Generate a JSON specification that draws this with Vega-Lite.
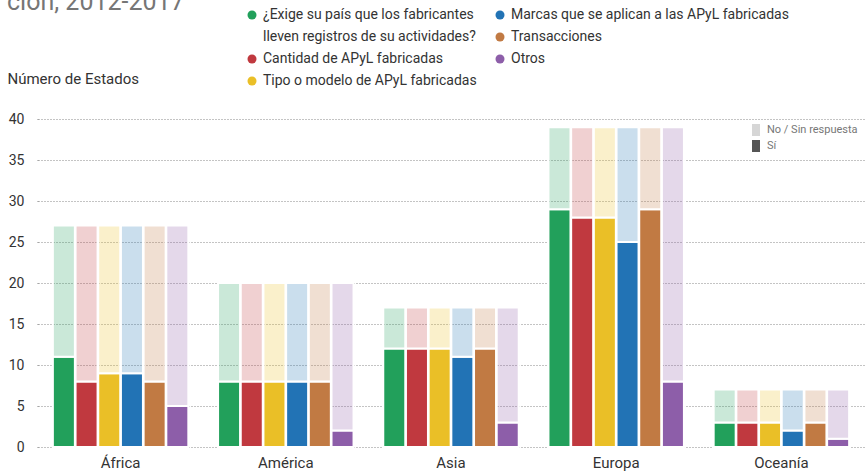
{
  "$schema": "https://vega.github.io/schema/vega-lite/v6.json",
  "autosize": {"type": "none"},
  "width": 826,
  "height": 328,
  "padding": {"left": 38, "top": 119, "right": 1, "bottom": 28},
  "title": {"text": "ción, 2012-2017", "anchor": "start", "frame": "group", "fontSize": 25, "fontWeight": "normal", "color": "#767676", "baseline": "alphabetic", "offset": 0, "dx": -31, "dy": 27},
  "config": {
    "view": {"stroke": null},
    "font": "Roboto, sans-serif"
  },
  "data": {"values": [
    {"region": "África", "serie": "¿Exige su país que los fabricantes", "estado": "Sí", "n": 11},
    {"region": "África", "serie": "¿Exige su país que los fabricantes", "estado": "No / Sin respuesta", "n": 16},
    {"region": "África", "serie": "Cantidad de APyL fabricadas", "estado": "Sí", "n": 8},
    {"region": "África", "serie": "Cantidad de APyL fabricadas", "estado": "No / Sin respuesta", "n": 19},
    {"region": "África", "serie": "Tipo o modelo de APyL fabricadas", "estado": "Sí", "n": 9},
    {"region": "África", "serie": "Tipo o modelo de APyL fabricadas", "estado": "No / Sin respuesta", "n": 18},
    {"region": "África", "serie": "Marcas que se aplican a las APyL fabricadas", "estado": "Sí", "n": 9},
    {"region": "África", "serie": "Marcas que se aplican a las APyL fabricadas", "estado": "No / Sin respuesta", "n": 18},
    {"region": "África", "serie": "Transacciones", "estado": "Sí", "n": 8},
    {"region": "África", "serie": "Transacciones", "estado": "No / Sin respuesta", "n": 19},
    {"region": "África", "serie": "Otros", "estado": "Sí", "n": 5},
    {"region": "África", "serie": "Otros", "estado": "No / Sin respuesta", "n": 22},
    {"region": "América", "serie": "¿Exige su país que los fabricantes", "estado": "Sí", "n": 8},
    {"region": "América", "serie": "¿Exige su país que los fabricantes", "estado": "No / Sin respuesta", "n": 12},
    {"region": "América", "serie": "Cantidad de APyL fabricadas", "estado": "Sí", "n": 8},
    {"region": "América", "serie": "Cantidad de APyL fabricadas", "estado": "No / Sin respuesta", "n": 12},
    {"region": "América", "serie": "Tipo o modelo de APyL fabricadas", "estado": "Sí", "n": 8},
    {"region": "América", "serie": "Tipo o modelo de APyL fabricadas", "estado": "No / Sin respuesta", "n": 12},
    {"region": "América", "serie": "Marcas que se aplican a las APyL fabricadas", "estado": "Sí", "n": 8},
    {"region": "América", "serie": "Marcas que se aplican a las APyL fabricadas", "estado": "No / Sin respuesta", "n": 12},
    {"region": "América", "serie": "Transacciones", "estado": "Sí", "n": 8},
    {"region": "América", "serie": "Transacciones", "estado": "No / Sin respuesta", "n": 12},
    {"region": "América", "serie": "Otros", "estado": "Sí", "n": 2},
    {"region": "América", "serie": "Otros", "estado": "No / Sin respuesta", "n": 18},
    {"region": "Asia", "serie": "¿Exige su país que los fabricantes", "estado": "Sí", "n": 12},
    {"region": "Asia", "serie": "¿Exige su país que los fabricantes", "estado": "No / Sin respuesta", "n": 5},
    {"region": "Asia", "serie": "Cantidad de APyL fabricadas", "estado": "Sí", "n": 12},
    {"region": "Asia", "serie": "Cantidad de APyL fabricadas", "estado": "No / Sin respuesta", "n": 5},
    {"region": "Asia", "serie": "Tipo o modelo de APyL fabricadas", "estado": "Sí", "n": 12},
    {"region": "Asia", "serie": "Tipo o modelo de APyL fabricadas", "estado": "No / Sin respuesta", "n": 5},
    {"region": "Asia", "serie": "Marcas que se aplican a las APyL fabricadas", "estado": "Sí", "n": 11},
    {"region": "Asia", "serie": "Marcas que se aplican a las APyL fabricadas", "estado": "No / Sin respuesta", "n": 6},
    {"region": "Asia", "serie": "Transacciones", "estado": "Sí", "n": 12},
    {"region": "Asia", "serie": "Transacciones", "estado": "No / Sin respuesta", "n": 5},
    {"region": "Asia", "serie": "Otros", "estado": "Sí", "n": 3},
    {"region": "Asia", "serie": "Otros", "estado": "No / Sin respuesta", "n": 14},
    {"region": "Europa", "serie": "¿Exige su país que los fabricantes", "estado": "Sí", "n": 29},
    {"region": "Europa", "serie": "¿Exige su país que los fabricantes", "estado": "No / Sin respuesta", "n": 10},
    {"region": "Europa", "serie": "Cantidad de APyL fabricadas", "estado": "Sí", "n": 28},
    {"region": "Europa", "serie": "Cantidad de APyL fabricadas", "estado": "No / Sin respuesta", "n": 11},
    {"region": "Europa", "serie": "Tipo o modelo de APyL fabricadas", "estado": "Sí", "n": 28},
    {"region": "Europa", "serie": "Tipo o modelo de APyL fabricadas", "estado": "No / Sin respuesta", "n": 11},
    {"region": "Europa", "serie": "Marcas que se aplican a las APyL fabricadas", "estado": "Sí", "n": 25},
    {"region": "Europa", "serie": "Marcas que se aplican a las APyL fabricadas", "estado": "No / Sin respuesta", "n": 14},
    {"region": "Europa", "serie": "Transacciones", "estado": "Sí", "n": 29},
    {"region": "Europa", "serie": "Transacciones", "estado": "No / Sin respuesta", "n": 10},
    {"region": "Europa", "serie": "Otros", "estado": "Sí", "n": 8},
    {"region": "Europa", "serie": "Otros", "estado": "No / Sin respuesta", "n": 31},
    {"region": "Oceanía", "serie": "¿Exige su país que los fabricantes", "estado": "Sí", "n": 3},
    {"region": "Oceanía", "serie": "¿Exige su país que los fabricantes", "estado": "No / Sin respuesta", "n": 4},
    {"region": "Oceanía", "serie": "Cantidad de APyL fabricadas", "estado": "Sí", "n": 3},
    {"region": "Oceanía", "serie": "Cantidad de APyL fabricadas", "estado": "No / Sin respuesta", "n": 4},
    {"region": "Oceanía", "serie": "Tipo o modelo de APyL fabricadas", "estado": "Sí", "n": 3},
    {"region": "Oceanía", "serie": "Tipo o modelo de APyL fabricadas", "estado": "No / Sin respuesta", "n": 4},
    {"region": "Oceanía", "serie": "Marcas que se aplican a las APyL fabricadas", "estado": "Sí", "n": 2},
    {"region": "Oceanía", "serie": "Marcas que se aplican a las APyL fabricadas", "estado": "No / Sin respuesta", "n": 5},
    {"region": "Oceanía", "serie": "Transacciones", "estado": "Sí", "n": 3},
    {"region": "Oceanía", "serie": "Transacciones", "estado": "No / Sin respuesta", "n": 4},
    {"region": "Oceanía", "serie": "Otros", "estado": "Sí", "n": 1},
    {"region": "Oceanía", "serie": "Otros", "estado": "No / Sin respuesta", "n": 6}
  ]},
  "layer": [
    {
      "mark": {"type": "bar", "stroke": "white", "strokeWidth": 2},
      "encoding": {
        "x": {
          "field": "region", "type": "nominal",
          "sort": ["África", "América", "Asia", "Europa", "Oceanía"],
          "scale": {"paddingInner": 0.18, "paddingOuter": 0.09},
          "axis": {"title": null, "labelAngle": 0, "domain": false, "ticks": false, "labelFontSize": 15, "labelColor": "#333", "labelPadding": 8}
        },
        "xOffset": {
          "field": "serie", "type": "nominal",
          "sort": ["¿Exige su país que los fabricantes", "Cantidad de APyL fabricadas", "Tipo o modelo de APyL fabricadas", "Marcas que se aplican a las APyL fabricadas", "Transacciones", "Otros"],
          "scale": {"paddingInner": 0.03, "paddingOuter": 0}
        },
        "y": {
          "field": "n", "type": "quantitative", "stack": "zero",
          "scale": {"domain": [0, 40], "nice": false},
          "axis": {
            "title": "Número de Estados", "titleAngle": 0, "titleAlign": "left", "titleBaseline": "middle",
            "titleX": -31, "titleY": -41, "titleFontSize": 15, "titleFontWeight": "normal", "titleColor": "#333",
            "values": [0, 5, 10, 15, 20, 25, 30, 35, 40],
            "domain": false, "grid": true, "gridColor": "#888", "gridDash": [1, 2], "gridWidth": 1,
            "ticks": true, "tickSize": 3, "tickColor": "#888", "tickDash": [1, 2],
            "labelFontSize": 14, "labelColor": "#333", "labelPadding": 11
          }
        },
        "color": {
          "field": "serie", "type": "nominal",
          "scale": {
            "domain": ["¿Exige su país que los fabricantes", "Marcas que se aplican a las APyL fabricadas", "lleven registros de su actividades?", "Transacciones", "Cantidad de APyL fabricadas", "Otros", "Tipo o modelo de APyL fabricadas"],
            "range": ["#22a05b", "#2273b5", "rgba(255,255,255,0)", "#c17a43", "#c0393f", "#8d5ea9", "#eabf27"]
          },
          "legend": {
            "title": null, "orient": "none", "legendX": 207, "legendY": -111, "direction": "horizontal", "columns": 2,
            "symbolType": "circle", "symbolSize": 81, "symbolStrokeWidth": 0,
            "labelFontSize": 14, "labelColor": "#333", "labelLimit": 400, "rowPadding": 8, "columnPadding": 16, "padding": 0
          }
        },
        "fillOpacity": {
          "field": "estado", "type": "nominal",
          "scale": {"domain": ["No / Sin respuesta", "Sí"], "range": [0.24, 1]},
          "legend": null
        },
        "order": {"field": "estado", "sort": "descending"}
      }
    },
    {
      "transform": [{"filter": "false"}],
      "mark": {"type": "bar", "color": "#555555"},
      "encoding": {
        "opacity": {
          "field": "estado", "type": "nominal",
          "scale": {"domain": ["No / Sin respuesta", "Sí"], "range": [0.24, 1]},
          "legend": {
            "title": null, "orient": "none", "legendX": 712, "legendY": 5, "padding": 0,
            "symbolType": "M-0.67,-1H0.67V1H-0.67Z", "symbolSize": 144, "symbolStrokeWidth": 0, "symbolFillColor": "#555555",
            "labelFontSize": 11, "labelColor": "#777", "rowPadding": 4, "labelOffset": 5
          }
        }
      }
    }
  ]
}
